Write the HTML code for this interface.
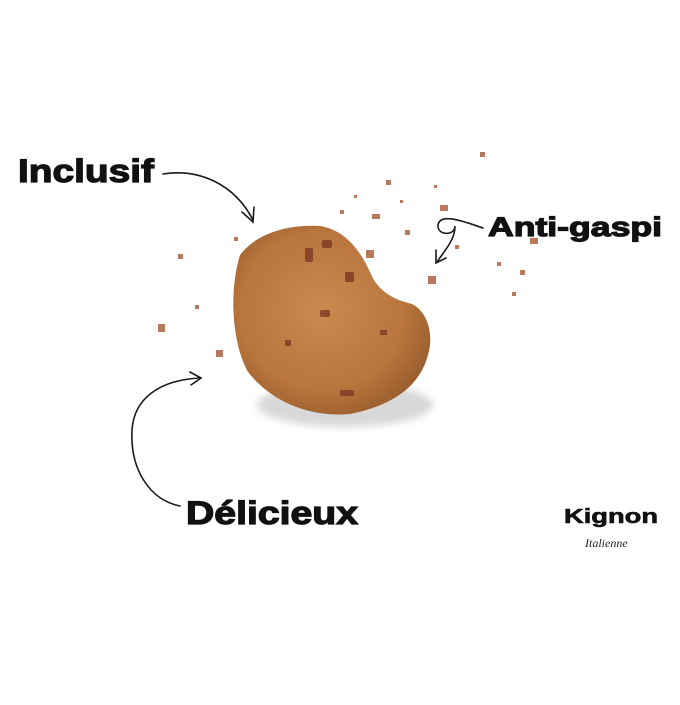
<!DOCTYPE html>
<html><head><style>
body{margin:0;background:#fff;width:680px;height:700px;overflow:hidden}
</style></head><body>
<svg width="680" height="700" viewBox="0 0 680 700" xmlns="http://www.w3.org/2000/svg">
<defs>
<radialGradient id="c" cx="45%" cy="45%" r="60%">
<stop offset="0" stop-color="#c98a4f"/><stop offset="0.7" stop-color="#b8753d"/><stop offset="1" stop-color="#9a5e2e"/>
</radialGradient>
<filter id="b"><feGaussianBlur stdDeviation="4"/></filter>
</defs>
<ellipse cx="345" cy="405" rx="88" ry="22" fill="#d8d8d8" filter="url(#b)"/>
<path d="M240,255 C255,235 285,224 320,226 C345,230 360,250 370,272 C378,292 395,300 412,304 C428,312 434,335 428,355 C420,385 395,405 350,414 C305,418 268,398 248,372 C233,345 228,295 240,255Z" fill="url(#c)"/>
<g fill="#7a3a22" opacity="0.8">
<rect x="305" y="248" width="8" height="14" rx="2"/><rect x="345" y="272" width="9" height="10" rx="2"/>
<rect x="320" y="310" width="10" height="7" rx="2"/><rect x="340" y="390" width="14" height="6" rx="2"/>
<rect x="285" y="340" width="6" height="6"/><rect x="380" y="330" width="7" height="5"/>
<rect x="322" y="240" width="10" height="8" rx="2"/>
</g>
<g fill="#b87a5c">
<rect x="372" y="214" width="8" height="5"/><rect x="386" y="180" width="5" height="5"/><rect x="405" y="230" width="5" height="5"/>
<rect x="366" y="250" width="8" height="8"/><rect x="428" y="276" width="8" height="8"/><rect x="440" y="205" width="8" height="6"/>
<rect x="480" y="152" width="5" height="5"/><rect x="530" y="238" width="8" height="6"/><rect x="520" y="270" width="5" height="5"/>
<rect x="512" y="292" width="4" height="4"/><rect x="497" y="262" width="4" height="4"/><rect x="340" y="210" width="4" height="4"/>
<rect x="354" y="195" width="3" height="3"/><rect x="400" y="200" width="3" height="3"/><rect x="434" y="185" width="3" height="3"/>
<rect x="178" y="254" width="5" height="5"/><rect x="234" y="237" width="4" height="4"/><rect x="158" y="324" width="7" height="8"/>
<rect x="216" y="350" width="7" height="7"/><rect x="195" y="305" width="4" height="4"/><rect x="455" y="245" width="4" height="4"/>
</g>
<g fill="none" stroke="#1a1a1a" stroke-width="1.6" stroke-linecap="round">
<path d="M163,174 C200,168 235,185 253,220"/>
<path d="M242,212 L253,222 L254,207"/>
<path d="M483,228 C465,222 440,212 438,225 C437,236 455,236 455,226 C455,240 445,250 437,262"/>
<path d="M436,250 L436,263 L446,258"/>
<path d="M180,506 C150,500 130,470 132,430 C134,398 160,380 200,378"/>
<path d="M190,372 L201,378 L191,385"/>
</g>
<g font-family="Liberation Sans, sans-serif" font-weight="bold" fill="#111" stroke="#111" stroke-width="1.2" lengthAdjust="spacingAndGlyphs">
<text x="18" y="182" font-size="32" textLength="136" lengthAdjust="spacingAndGlyphs">Inclusif</text>
<text x="488" y="236" font-size="27" textLength="174" lengthAdjust="spacingAndGlyphs">Anti-gaspi</text>
<text x="186" y="524" font-size="32" textLength="172" lengthAdjust="spacingAndGlyphs">Délicieux</text>
<text x="564" y="523" font-size="20" stroke-width="0.6" textLength="94" lengthAdjust="spacingAndGlyphs">Kignon</text>
</g>
<text x="585" y="547" font-family="Liberation Serif, serif" font-style="italic" font-size="12" fill="#222">Italienne</text>
</svg>
</body></html>
